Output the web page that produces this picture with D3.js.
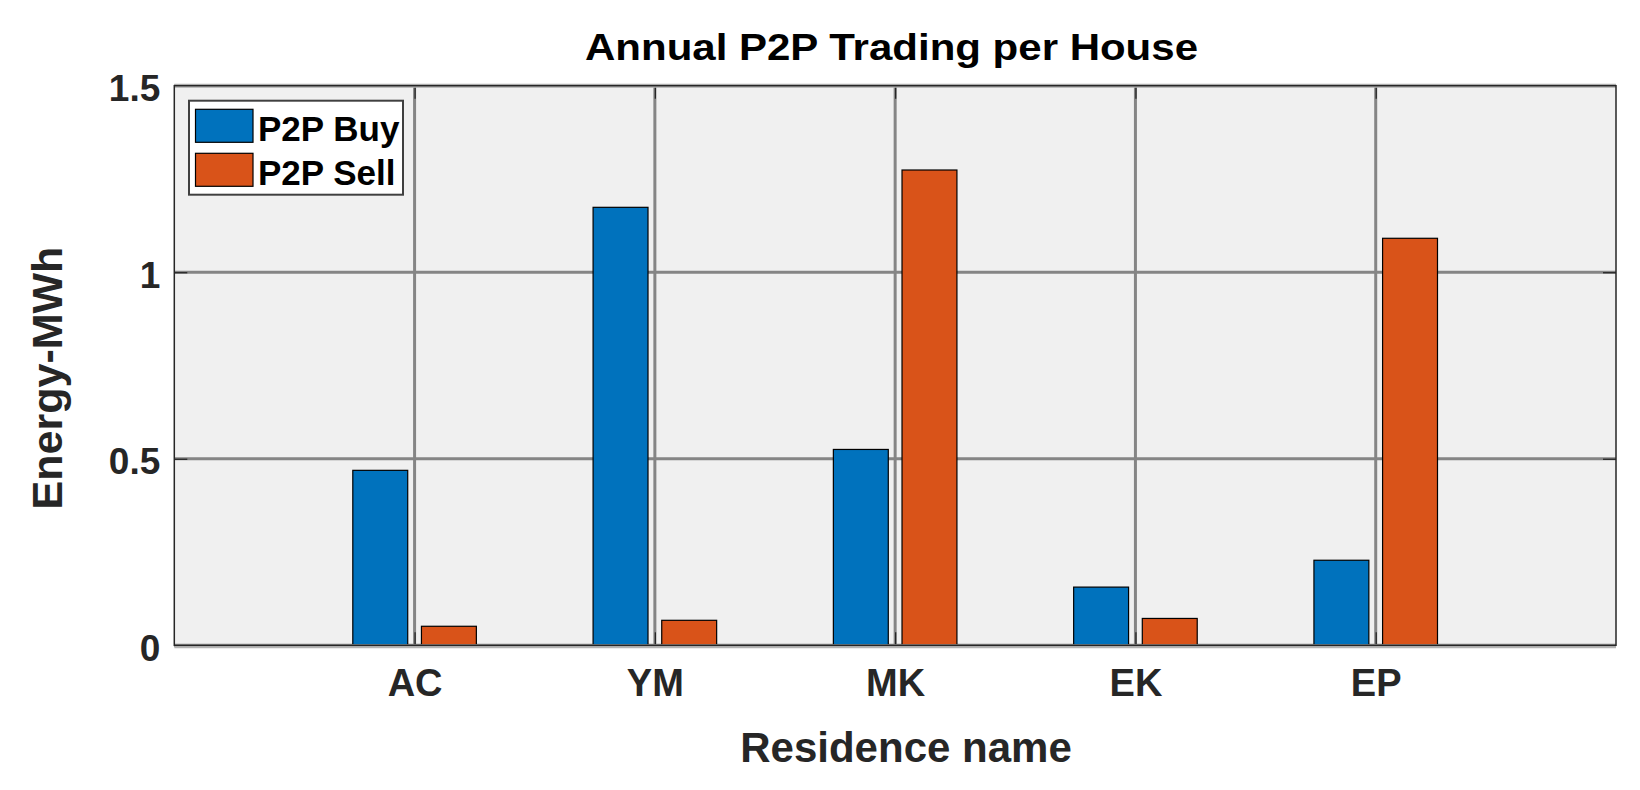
<!DOCTYPE html>
<html>
<head>
<meta charset="utf-8">
<script src="https://cdn.jsdelivr.net/npm/d3@7"></script>
<style>
body { margin: 0; background: #fff; }
text { font-family: Arial, "Liberation Sans", sans-serif; font-weight: bold; }
</style>
</head>
<body>
<div id="chart"></div>
<script>
// data
var residences = ["AC", "YM", "MK", "EK", "EP"];
var p2pBuy  = [0.469, 1.174, 0.525, 0.156, 0.228];
var p2pSell = [0.051, 0.067, 1.274, 0.072, 1.091];
var seriesNames = ["P2P Buy", "P2P Sell"];
var yTicks = [0, 0.5, 1, 1.5];

var colors = ["#0072BD", "#D95319"];
var w_svg = 1640, h_svg = 790;
var pl = 174.3, pr = 1616, pt = 85.7, pb = 645.3;

// matlab grouped bar geometry
var groupWidth = 0.5714;
var barWidth = 0.8 * groupWidth / 2;

var svg = d3.select("#chart")
  .append("svg")
  .attr("width", w_svg)
  .attr("height", h_svg);

var x = d3.scaleLinear().domain([0, residences.length + 1]).range([pl, pr]);
var y = d3.scaleLinear().domain([0, 1.5]).range([pb, pt]);
var xTicks = residences.map(function(d, i) { return i + 1; });

// plot background
svg.append("rect")
  .attr("x", pl).attr("y", pt)
  .attr("width", pr - pl).attr("height", pb - pt)
  .style("fill", "#f0f0f0");

// grid
svg.selectAll(".vgrid")
  .data(xTicks)
  .enter()
  .append("line")
  .attr("x1", function(d) { return x(d); })
  .attr("x2", function(d) { return x(d); })
  .attr("y1", pt).attr("y2", pb)
  .style("stroke", "#858585")
  .style("stroke-width", 3);

svg.selectAll(".hgrid")
  .data(yTicks)
  .enter()
  .append("line")
  .attr("x1", pl).attr("x2", pr)
  .attr("y1", function(d) { return y(d); })
  .attr("y2", function(d) { return y(d); })
  .style("stroke", "#858585")
  .style("stroke-width", 3);

// bars
var series = [p2pBuy, p2pSell];
series.forEach(function(vals, s) {
  var off = (s - 0.5) * groupWidth / 2;
  svg.selectAll(".bar" + s)
    .data(vals)
    .enter()
    .append("rect")
    .attr("x", function(d, i) { return x(i + 1 + off - barWidth / 2); })
    .attr("y", function(d) { return y(d); })
    .attr("width", function() { return x(barWidth) - x(0); })
    .attr("height", function(d) { return y(0) - y(d); })
    .style("fill", colors[s])
    .style("stroke", "#000")
    .style("stroke-width", 1.2);
});

// axes
var xAxis = svg.append("g")
  .attr("transform", "translate(0," + pb + ")")
  .call(d3.axisBottom(x)
    .tickValues(xTicks)
    .tickFormat(function(d) { return residences[d - 1]; })
    .tickSizeInner(-13)
    .tickSizeOuter(0)
    .tickPadding(24));

var yAxis = svg.append("g")
  .attr("transform", "translate(" + pl + ",0)")
  .call(d3.axisLeft(y)
    .tickValues(yTicks)
    .tickFormat(d3.format("~g"))
    .tickSizeInner(-13)
    .tickSizeOuter(0)
    .tickPadding(14));

// top / right ticks
svg.append("g")
  .attr("transform", "translate(0," + pt + ")")
  .call(d3.axisTop(x).tickValues(xTicks).tickFormat("").tickSizeInner(-13).tickSizeOuter(0));
svg.append("g")
  .attr("transform", "translate(" + pr + ",0)")
  .call(d3.axisRight(y).tickValues(yTicks).tickFormat("").tickSizeInner(-13).tickSizeOuter(0));

svg.selectAll(".domain").remove();
svg.selectAll(".tick line").style("stroke", "#262626").style("stroke-width", 1.3);

xAxis.selectAll("text")
  .style("font-size", "38px")
  .style("fill", "#262626");
yAxis.selectAll("text")
  .attr("dy", "0.4em")
  .style("font-size", "37px")
  .style("fill", "#262626");

// axes box
svg.append("line").attr("x1", pl).attr("x2", pr).attr("y1", pt).attr("y2", pt)
  .style("stroke", "#b4b4b4").style("stroke-width", 4);
svg.append("line").attr("x1", pl).attr("x2", pr).attr("y1", pb + 1).attr("y2", pb + 1)
  .style("stroke", "#b4b4b4").style("stroke-width", 4);
svg.append("rect")
  .attr("x", pl).attr("y", pt)
  .attr("width", pr - pl).attr("height", pb - pt)
  .style("fill", "none")
  .style("stroke", "#262626")
  .style("stroke-width", 1.5);

// title and labels
svg.append("text")
  .attr("x", 891.5).attr("y", 60)
  .attr("text-anchor", "middle")
  .attr("textLength", 613)
  .attr("lengthAdjust", "spacingAndGlyphs")
  .style("font-size", "36px")
  .style("fill", "#000")
  .text("Annual P2P Trading per House");

svg.append("text")
  .attr("x", 906).attr("y", 762)
  .attr("text-anchor", "middle")
  .style("font-size", "42px")
  .style("fill", "#262626")
  .text("Residence name");

svg.append("text")
  .attr("transform", "translate(62,378) rotate(-90)")
  .attr("text-anchor", "middle")
  .style("font-size", "43px")
  .style("fill", "#262626")
  .text("Energy-MWh");

// legend
var legend = svg.append("g");
legend.append("rect")
  .attr("x", 189).attr("y", 100.7)
  .attr("width", 214).attr("height", 94)
  .style("fill", "#fff")
  .style("stroke", "#404040")
  .style("stroke-width", 2);

var rows = legend.selectAll(".row")
  .data(seriesNames)
  .enter()
  .append("g")
  .attr("transform", function(d, i) { return "translate(0," + (i * 44) + ")"; });

rows.append("rect")
  .attr("x", 195.5).attr("y", 109.3)
  .attr("width", 57.5).attr("height", 33)
  .style("fill", function(d, i) { return colors[i]; })
  .style("stroke", "#000")
  .style("stroke-width", 1.2);

rows.append("text")
  .attr("x", 258).attr("y", 141)
  .style("font-size", "35px")
  .style("fill", "#000")
  .text(function(d) { return d; });
</script>
</body>
</html>
